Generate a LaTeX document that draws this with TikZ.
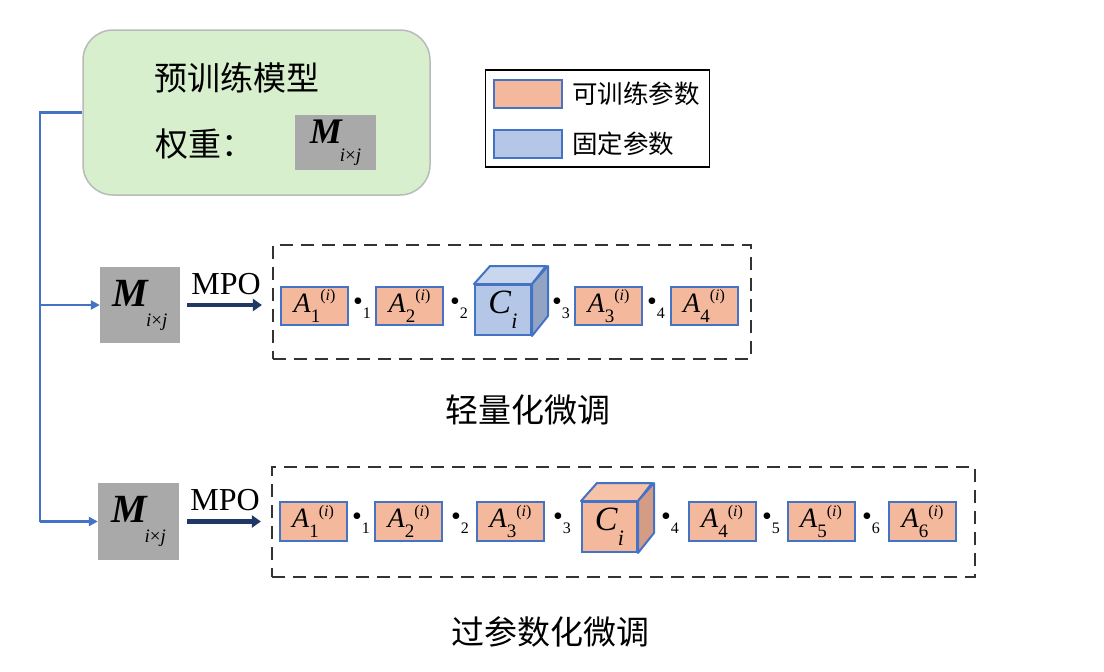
\documentclass[tikz,border=0pt]{standalone}
\usepackage{fontspec}
\setmainfont{Liberation Serif}
\newfontfamily\cjk{Noto Sans CJK SC}
\usetikzlibrary{arrows.meta}
\definecolor{orangef}{HTML}{F4B89C}
\definecolor{orangetop}{HTML}{F6C2A8}
\definecolor{orangeside}{HTML}{D49C84}
\definecolor{bluef}{HTML}{B4C7E7}
\definecolor{bluetop}{HTML}{C8D6EE}
\definecolor{blueside}{HTML}{93A3C2}
\definecolor{bedge}{HTML}{4472C4}
\definecolor{greenf}{HTML}{D7EFCD}
\definecolor{greyf}{HTML}{A9A9A9}
\definecolor{navy}{HTML}{1F3864}
\definecolor{dashc}{HTML}{333333}
\newcommand{\Aop}[1]{\textit{A}\raisebox{-0.36em}{\fontsize{19}{19}\selectfont #1}\raisebox{0.42em}{\fontsize{16}{16}\selectfont(\textit{i})}}
\newcommand{\Mop}{\textbf{\textit{M}}\hspace{-0.08em}\raisebox{-0.5em}{\fontsize{19}{19}\selectfont\textit{i}×\textit{j}}}
\newcommand{\Cop}{\textit{C}\raisebox{-0.45em}{\fontsize{22}{22}\selectfont\textit{i}}}
\newcommand{\dotop}[1]{•\raisebox{-0.3em}{\fontsize{16}{16}\selectfont #1}}
\tikzset{
  abox/.style={draw=bedge, fill=orangef, line width=2pt, minimum width=67pt, minimum height=38pt, inner sep=0pt, font=\fontsize{28}{30}\selectfont},
  cface/.style={draw=bedge, line width=2pt, inner sep=0pt},
  mbox/.style={fill=greyf, minimum width=80pt, minimum height=76pt, inner sep=0pt, font=\fontsize{40}{42}\selectfont},
  dashbox/.style={draw=dashc, line width=2.2pt, dash pattern=on 13pt off 8pt},
  dotlab/.style={inner sep=0pt, font=\fontsize{28}{30}\selectfont},
  bline/.style={draw=bedge, line width=2.2pt},
  btip/.style={-{Triangle[length=9pt,width=9pt]}},
  navyarrow/.style={draw=navy, line width=4.5pt, -{Triangle[length=9pt,width=12pt]}},
  cjktext/.style={inner sep=0pt, font=\cjk\fontsize{33}{35}\selectfont},
  legtext/.style={inner sep=0pt, anchor=west, font=\cjk\fontsize{25.5}{27}\selectfont},
  mpolab/.style={inner sep=0pt, font=\fontsize{32}{34}\selectfont}
}
\begin{document}
\begin{tikzpicture}[x=1pt,y=-1pt]
\useasboundingbox (0,0) rectangle (1104,672);
% pre-trained model box
\node[draw=greyf!80, line width=1.5pt, fill=greenf, rounded corners=30pt, minimum width=347pt, minimum height=165pt] (green) at (256.5,112.5) {};
\node[cjktext] (pt) at (237,78) {预训练模型};
\node[cjktext, anchor=west] (wt) at (155,144) {权重：};
\node[mbox, minimum width=81pt, minimum height=55pt, font=\fontsize{36}{38}\selectfont] (m0) at (335.5,142.5) {\Mop};
% legend
\node[draw=black, line width=1.5pt, minimum width=224pt, minimum height=97pt] (leg) at (597.5,118.5) {};
\node[draw=bedge, fill=orangef, line width=2pt, minimum width=68pt, minimum height=28pt, inner sep=0pt] (lo) at (527.5,94) {};
\node[draw=bedge, fill=bluef, line width=2pt, minimum width=68pt, minimum height=28pt, inner sep=0pt] (lb) at (527.5,144) {};
\node[legtext] (lot) at (572,94) {可训练参数};
\node[legtext] (lbt) at (572,144) {固定参数};
% row 1
\node[mbox] (m1) at (140,305) {\Mop};
\node[dashbox, minimum width=478pt, minimum height=114pt] (d1) at (512,302) {};
\draw[navyarrow, shorten <=7pt, shorten >=10pt] (m1.east) -- (d1.west |- m1.east) node[mpolab, midway, above=8pt] (mpo1) {MPO};
\node[abox] (a11) at (314.5,306) {\Aop{1}};
\node[abox] (a12) at (409.5,306) {\Aop{2}};
\node[cface, fill=bluef, minimum width=56pt, minimum height=50pt] (c1) at (503,310) {};
\fill[bluetop, draw=bedge, line width=2pt, line join=round] (c1.north west) -- ++(16,-18) -- ++(56,0) -- (c1.north east) -- cycle;
\fill[blueside, draw=bedge, line width=2pt, line join=round] (c1.north east) -- ++(16,-18) -- ++(0,50) -- (c1.south east) -- cycle;
\node[inner sep=0pt, font=\fontsize{34}{36}\selectfont] (c1t) at (c1.center) {\Cop};
\node[abox] (a13) at (608.5,306) {\Aop{3}};
\node[abox] (a14) at (704,306) {\Aop{4}};
\node[dotlab] (p11) at (362,308) {\dotop{1}};
\node[dotlab] (p12) at (459,308) {\dotop{2}};
\node[dotlab] (p13) at (561,308) {\dotop{3}};
\node[dotlab] (p14) at (656,308) {\dotop{4}};
\node[cjktext] (lab1) at (528,410) {轻量化微调};
% row 2
\node[mbox, minimum width=81pt, minimum height=77pt] (m2) at (138.5,521.5) {\Mop};
\node[dashbox, minimum width=703pt, minimum height=110pt] (d2) at (623.5,522) {};
\draw[navyarrow, shorten <=8pt, shorten >=10pt] (m2.east) -- (d2.west |- m2.east) node[mpolab, midway, above=8pt] (mpo2) {MPO};
\node[abox, minimum height=39pt] (a21) at (313,521.5) {\Aop{1}};
\node[abox, minimum height=39pt] (a22) at (408.5,521.5) {\Aop{2}};
\node[abox, minimum height=39pt] (a23) at (510.5,521.5) {\Aop{3}};
\node[cface, fill=orangef, minimum width=55pt, minimum height=50pt] (c2) at (609.5,527) {};
\fill[orangetop, draw=bedge, line width=2pt, line join=round] (c2.north west) -- ++(16,-18) -- ++(55,0) -- (c2.north east) -- cycle;
\fill[orangeside, draw=bedge, line width=2pt, line join=round] (c2.north east) -- ++(16,-18) -- ++(0,50) -- (c2.south east) -- cycle;
\node[inner sep=0pt, font=\fontsize{34}{36}\selectfont] (c2t) at (c2.center) {\Cop};
\node[abox, minimum height=39pt] (a24) at (722,521.5) {\Aop{4}};
\node[abox, minimum height=39pt] (a25) at (821,521.5) {\Aop{5}};
\node[abox, minimum height=39pt] (a26) at (922.5,521.5) {\Aop{6}};
\node[dotlab] (p21) at (361,523) {\dotop{1}};
\node[dotlab] (p22) at (460,523) {\dotop{2}};
\node[dotlab] (p23) at (562,523) {\dotop{3}};
\node[dotlab] (p24) at (670,523) {\dotop{4}};
\node[dotlab] (p25) at (771,523) {\dotop{5}};
\node[dotlab] (p26) at (871,523) {\dotop{6}};
\node[cjktext] (lab2) at (550,632) {过参数化微调};
% blue connector
\coordinate (spine) at (40,0);
\draw[bline] (green.west) -- (spine |- green.west) -- (spine |- m2.west);
\draw[bline, btip] (spine |- m1.west) -- (m1.west);
\draw[bline, btip] (spine |- m2.west) -- (m2.west);
\end{tikzpicture}
\end{document}
